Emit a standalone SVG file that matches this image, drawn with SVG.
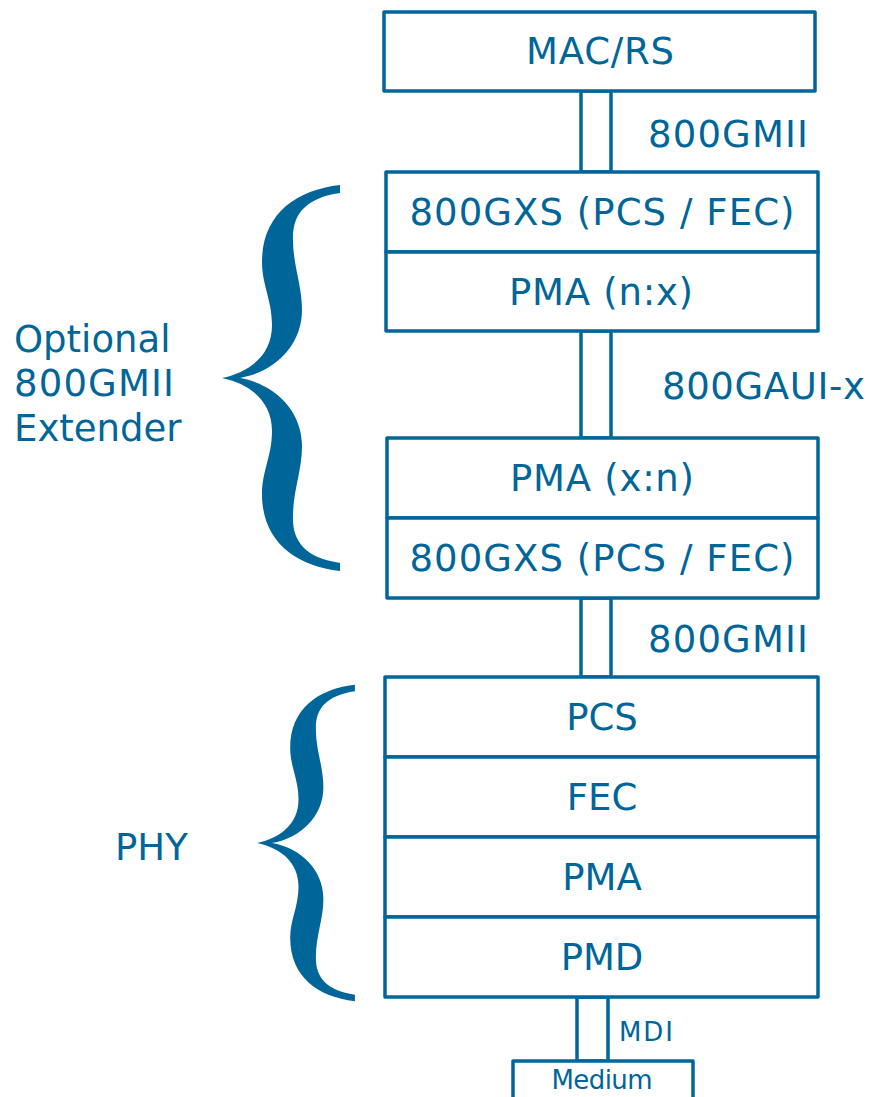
<svg xmlns="http://www.w3.org/2000/svg" xmlns:xlink="http://www.w3.org/1999/xlink" width="871" height="1097" viewBox="0 0 871 1097">
<style>
.box{fill:#fff;stroke:#006699;stroke-width:3.5;stroke-linejoin:round}
.con{fill:#fff;stroke:#006699;stroke-width:3.5}
.t{font-family:"DejaVu Sans","Verdana",sans-serif;font-size:37px;fill:#006699}
.c{text-anchor:middle}
.s{font-size:26px}
.brace{fill:#006699}
</style>
<defs>
<path id="brace" d="M 0,0 C 28,-6 50,-23 50,-53 C 50,-78 40,-93 40,-116 C 40,-163 73,-188 118,-193 L 118,-185 C 83,-180 70,-163 71,-138 C 71,-113 80,-93 80,-68 C 80,-33 53,-6 18,0 C 53,6 80,33 80,68 C 80,93 71,113 71,138 C 70,163 83,180 118,185 L 118,193 C 73,188 40,163 40,116 C 40,93 50,78 50,53 C 50,23 28,6 0,0 Z"/>
</defs>
<rect width="871" height="1097" fill="#fff"/>
<g id="connectors">
<rect class="con" x="581" y="91" width="30" height="81"/>
<rect class="con" x="581" y="331" width="30" height="107"/>
<rect class="con" x="581" y="598" width="30" height="79"/>
<rect class="con" x="577" y="997" width="31" height="64"/>
</g>
<g id="mac-rs"><rect class="box" x="384" y="12" width="431" height="79"/><text class="t c" x="600" y="64" textLength="148">MAC/RS</text></g>
<g id="gmii-label-1"><text class="t" x="648" y="147" textLength="160">800GMII</text></g>
<g id="gxs-1"><rect class="box" x="386" y="172" width="432" height="80"/><text class="t c" x="602" y="225" textLength="385">800GXS (PCS / FEC)</text></g>
<g id="pma-nx"><rect class="box" x="386" y="252" width="432" height="79"/><text class="t c" x="601" y="305" textLength="184">PMA (n:x)</text></g>
<g id="gaui-label"><text class="t" x="662" y="399" textLength="203">800GAUI-x</text></g>
<g id="pma-xn"><rect class="box" x="387" y="438" width="431" height="80"/><text class="t c" x="602" y="491" textLength="184">PMA (x:n)</text></g>
<g id="gxs-2"><rect class="box" x="387" y="518" width="431" height="80"/><text class="t c" x="602" y="571" textLength="385">800GXS (PCS / FEC)</text></g>
<g id="gmii-label-2"><text class="t" x="648" y="652" textLength="160">800GMII</text></g>
<g id="pcs"><rect class="box" x="385" y="677" width="433" height="80"/><text class="t c" x="602" y="730">PCS</text></g>
<g id="fec"><rect class="box" x="385" y="757" width="433" height="80"/><text class="t c" x="602" y="810">FEC</text></g>
<g id="pma"><rect class="box" x="385" y="837" width="433" height="80"/><text class="t c" x="602" y="890">PMA</text></g>
<g id="pmd"><rect class="box" x="385" y="917" width="433" height="80"/><text class="t c" x="602" y="970">PMD</text></g>
<g id="mdi-label"><text class="t s" x="619" y="1041" textLength="54">MDI</text></g>
<g id="medium"><rect class="box" x="513" y="1061" width="180" height="60"/><text class="t s c" x="602" y="1089" textLength="101">Medium</text></g>
<g id="extender-brace"><use xlink:href="#brace" class="brace" transform="translate(222,378)"/>
<text class="t" x="14" y="352">Optional</text><text class="t" x="14" y="396" textLength="160">800GMII</text><text class="t" x="14" y="441">Extender</text></g>
<g id="phy-brace"><use xlink:href="#brace" class="brace" transform="translate(257,843) scale(0.83,0.82)"/>
<text class="t" x="115" y="860">PHY</text></g>
</svg>
